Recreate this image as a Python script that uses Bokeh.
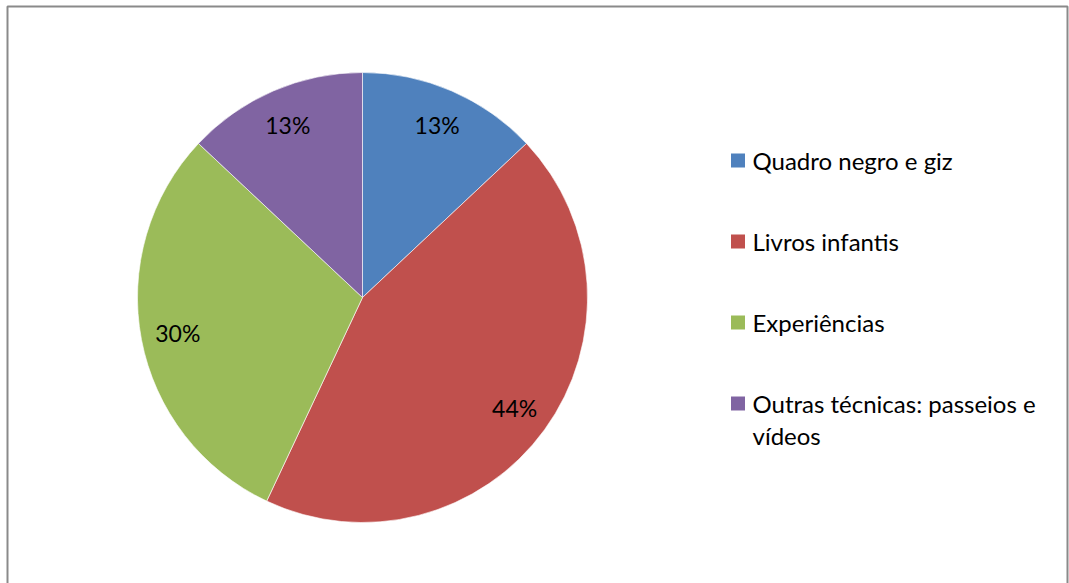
import numpy as np
from bokeh.plotting import figure
from bokeh.models import Range1d
from bokeh.embed import file_html
from bokeh.resources import INLINE
from bokeh.core.properties import value

categories = ["Quadro negro e giz", "Livros infantis", "Experiências",
              "Outras técnicas: passeios e vídeos"]
legend_labels = ["Quadro negro e giz", "Livros infantis", "Experiências",
                 "Outras técnicas: passeios e\nvídeos"]
percents = [13, 44, 30, 13]
colors = ["#4F81BD", "#C0504D", "#9BBB59", "#8064A2"]

FONT = "Lato"
LEG_SIZE = "24px"
LAB_SIZE = "23px"

W, H = 1069, 583
p = figure(width=W, height=H, x_range=Range1d(0, W), y_range=Range1d(0, H),
           output_backend="svg", toolbar_location=None, min_border=0)
p.axis.visible = False
p.grid.visible = False
p.outline_line_color = None
p.background_fill_color = "white"

# frame (left, top, right visible; bottom beyond view)
p.quad(left=7, right=1067, top=H - 6, bottom=-20, fill_color=None,
       line_color="#8a8a8a", line_width=2)

# pie geometry (pixels, y up)
cx, cy = 362, H - 297
R = 225
frac = np.array(percents, dtype=float) / sum(percents)
ends = np.pi / 2 - 2 * np.pi * np.cumsum(frac)
starts = ends + 2 * np.pi * frac
p.wedge(x=cx, y=cy, radius=R, radius_units="screen",
        start_angle=ends, end_angle=starts, direction="anticlock",
        fill_color=colors, line_color="white", line_width=0.6)

mid = (starts + ends) / 2
lr = 188
p.text(x=cx + lr * np.cos(mid), y=cy + lr * np.sin(mid),
       text=[f"{v}%" for v in percents], text_align="center",
       text_baseline="middle", text_font=value(FONT),
       text_font_size=LAB_SIZE, text_color="black")

# legend
row_y0, row_dy, line_dy = H - 160, 81, 32
sq_x, txt_x = 737.5, 752
for i, (lab, col) in enumerate(zip(legend_labels, colors)):
    y = row_y0 - i * row_dy
    p.rect(x=sq_x, y=y, width=14, height=14, width_units="screen",
           height_units="screen", fill_color=col, line_color=None)
    for j, line in enumerate(lab.split("\n")):
        p.text(x=txt_x, y=y - j * line_dy, text=[line], text_align="left",
               text_baseline="middle", text_font=value(FONT),
               text_font_size=LEG_SIZE, text_color="black")

open("out.html", "w").write(file_html(p, INLINE))
